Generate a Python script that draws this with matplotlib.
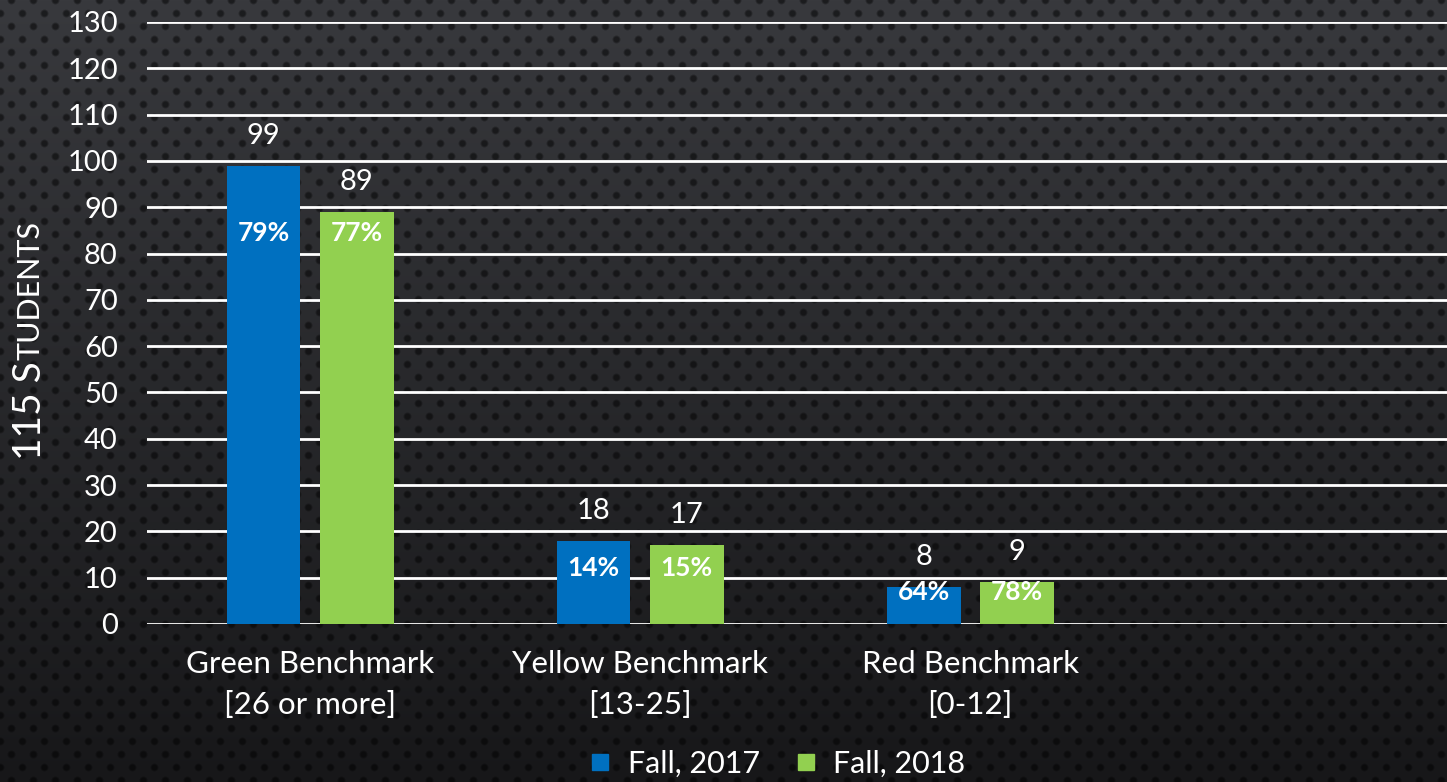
import matplotlib
matplotlib.use("Agg")
import matplotlib.pyplot as plt
from matplotlib.lines import Line2D
import numpy as np

# data
categories = ["Green Benchmark\n[26 or more]", "Yellow Benchmark\n[13-25]", "Red Benchmark\n[0-12]"]
fall_2017 = [99, 18, 8]
fall_2018 = [89, 17, 9]
pct_2017 = ["79%", "14%", "64%"]
pct_2018 = ["77%", "15%", "78%"]
yticks = list(range(0, 131, 10))

# layout
pct_y = [84.5, 12.0, 7.0]     # where the percentage boxes sit
offset = 0.141
width = 0.224
blue = "#0070C0"
green = "#92D050"
font = "Lato"

W, H = 1447, 782
fig = plt.figure(figsize=(W / 100, H / 100), dpi=100)

# textured dark background: vertical gradient with a staggered dot grid
yy, xx = np.mgrid[0:H, 0:W].astype(float)
top_col = np.array([0x38, 0x39, 0x3d]) / 255
bot_col = np.array([0x17, 0x17, 0x19]) / 255
t = (yy / H)[..., None]
base = top_col * (1 - t) + bot_col * t
row = np.round(yy / 13.0)
shift = (row % 2) * 11.0
dx = ((xx - shift) % 22.0) - 11.0
dy = yy - row * 13.0
d = np.sqrt(dx ** 2 + dy ** 2)
dot = np.clip(1.0 - (d - 2.5) / 2.0, 0, 1)[..., None]
img = base * (1 - 0.5 * dot)
fig.figimage(img, xo=0, yo=0, origin="upper", zorder=-10)

ax = fig.add_axes([147 / W, 1 - 624 / H, 1 - 147 / W, (624 - 22) / H])
ax.set_facecolor("none")
x = np.arange(len(categories))

b1 = ax.bar(x - offset, fall_2017, width, color=blue, zorder=3)
b2 = ax.bar(x + offset, fall_2018, width, color=green, zorder=3)

for bars, vals in ((b1, fall_2017), (b2, fall_2018)):
    for rect, v in zip(bars, vals):
        ax.annotate(str(v), (rect.get_x() + rect.get_width() / 2, v),
                    xytext=(0, 30), textcoords="offset pixels",
                    ha="center", va="center", color="white",
                    fontsize=21, family=font, zorder=5)

for i in range(len(categories)):
    ax.text(x[i] - offset, pct_y[i], pct_2017[i], ha="center", va="center",
            color="white", fontsize=19, fontweight="bold", family=font, zorder=5)
    ax.text(x[i] + offset, pct_y[i], pct_2018[i], ha="center", va="center",
            color="white", fontsize=19, fontweight="bold", family=font, zorder=5)

ax.set_ylim(0, 130)
ax.set_xlim(-0.494, 3.445)
ax.set_yticks(yticks)
ax.set_yticklabels([str(v) for v in yticks])
ax.set_xticks(x)
ax.set_xticklabels(categories, linespacing=1.55)
ax.yaxis.grid(True, color="white", linewidth=2, zorder=0)
ax.set_axisbelow(True)
ax.tick_params(axis="y", length=0, pad=21, labelsize=21, labelcolor="white")
ax.tick_params(axis="x", length=0, pad=19, labelsize=22.5, labelcolor="white")
for lab in ax.get_xticklabels() + ax.get_yticklabels():
    lab.set_family(font)
for s in ax.spines.values():
    s.set_visible(False)

# y label with small caps: "115 S" + "TUDENTS"
lx = 30 / W
t1 = fig.text(lx, 1 - 460 / H, "115 S", rotation=90, rotation_mode="anchor",
              ha="left", va="center", color="white", fontsize=28, family=font)
fig.canvas.draw()
bb = t1.get_window_extent()
fig.text(lx, (bb.y1 + 1) / H, "TUDENTS", rotation=90, rotation_mode="anchor",
         ha="left", va="center", color="white", fontsize=22, family=font)

handles = [Line2D([], [], marker="s", linestyle="none", markersize=12, color=blue),
           Line2D([], [], marker="s", linestyle="none", markersize=12, color=green)]
fig.legend(handles, ["Fall, 2017", "Fall, 2018"], loc="center",
           bbox_to_anchor=(775 / W, 1 - 764 / H), ncol=2, frameon=False,
           handletextpad=0.4, columnspacing=1.0, handlelength=1.0,
           prop={"family": font, "size": 22}, labelcolor="white")

fig.savefig("out.png", dpi=100)
